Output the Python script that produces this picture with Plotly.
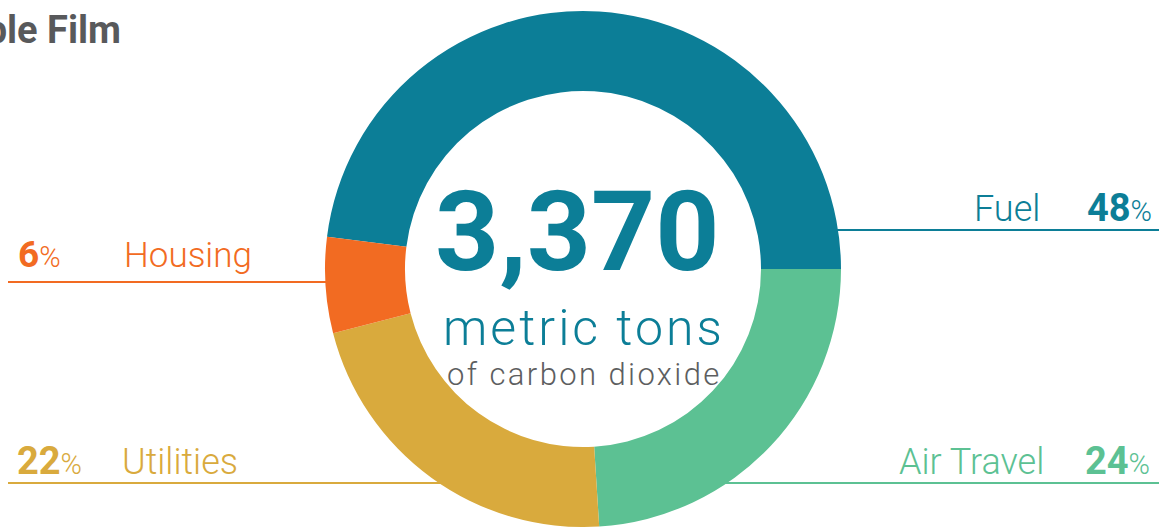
import math
import plotly.graph_objects as go

# ---- data ----
categories = ["Fuel", "Air Travel", "Utilities", "Housing"]
shares = [48, 24, 22, 6]
colors = ["#0c7e97", "#5cc193", "#d9aa3d", "#f26b22"]
total_tons = "3,370"
center_unit = "metric tons"
center_sub = "of carbon dioxide"
title_text = "Sample Film"

W, H, MT = 1159, 527, 11
CX, R = 583, (H - MT) / 2
CY = MT + R


def px(x):
    return x / W


def py(y):
    return 1 - (y - MT) / (H - MT)


fig = go.Figure()
fig.add_trace(go.Pie(
    labels=categories,
    values=shares,
    marker=dict(colors=colors, line=dict(width=0)),
    hole=0.69,
    sort=False,
    direction="clockwise",
    rotation=90 - shares[0] * 3.6,
    textinfo="none",
    hoverinfo="label+percent",
    showlegend=False,
    domain=dict(x=[px(CX - R), px(CX + R)], y=[0, 1]),
))

ann = []
F = "Roboto"


def add(text, x, y, size, color, xanchor="left", weight=300, family=F):
    ann.append(dict(text=text, x=px(x), y=py(y), xref="paper", yref="paper",
                    xanchor=xanchor, yanchor="middle", showarrow=False,
                    font=dict(family=family, size=size, color=color, weight=weight)))


def num(v):
    return f"<b>{v}</b><span style='font-size:29px'>%</span>"


# center text
add(total_tons, 577, 270 - 0.34 * 112, 112, colors[0], xanchor="center", weight=700)
add(f"<span style='letter-spacing:3px'>{center_unit}</span>", 584, 345 - 0.34 * 50, 50,
    colors[0], xanchor="center")
add(f"<span style='letter-spacing:2.4px'>{center_sub}</span>", 584, 385 - 0.34 * 31, 31,
    "#5d5e60", xanchor="center")

LS = 36
NS = 38
# Fuel (right)
add(categories[0], 972, 221 - 0.34 * LS, LS, colors[0])
add(num(shares[0]), 1154, 221 - 0.34 * NS, NS, colors[0], xanchor="right")
# Air Travel (right)
add(categories[1], 1046, 474 - 0.34 * LS, LS, colors[1], xanchor="right")
add(num(shares[1]), 1152, 474 - 0.34 * NS, NS, colors[1], xanchor="right")
# Utilities (left)
add(num(shares[2]), 15, 474 - 0.34 * NS, NS, colors[2])
add(categories[2], 120, 474 - 0.34 * LS, LS, colors[2])
# Housing (left)
add(num(shares[3]), 16, 267 - 0.34 * 37, 37, colors[3])
add(categories[3], 122, 267 - 0.34 * 35, 35, colors[3])

# title (cropped at the left edge, as in the reference)
add(f"<b>{title_text}</b>", 123, 43 - 0.34 * 38, 38, "#58595b", xanchor="right", weight=700)


def edge(y, side):
    dy = y - CY
    dx = math.sqrt(max(R * R - dy * dy, 0))
    return CX + side * (dx - 2)


shapes = []
for y, x0, x1, c in [
    (230, edge(230, 1), W, colors[0]),
    (483, edge(483, 1), W, colors[1]),
    (483, 8, edge(483, -1), colors[2]),
    (282, 8, edge(282, -1), colors[3]),
]:
    shapes.append(dict(type="line", xref="paper", yref="paper",
                       x0=px(x0), x1=px(x1), y0=py(y), y1=py(y),
                       line=dict(color=c, width=2), layer="below"))

fig.update_layout(
    width=W, height=H,
    margin=dict(l=0, r=0, t=MT, b=0),
    paper_bgcolor="white", plot_bgcolor="white",
    annotations=ann, shapes=shapes,
)
fig.write_html("out.html", config={"displayModeBar": False},
               post_script="document.body.style.margin='0';")
